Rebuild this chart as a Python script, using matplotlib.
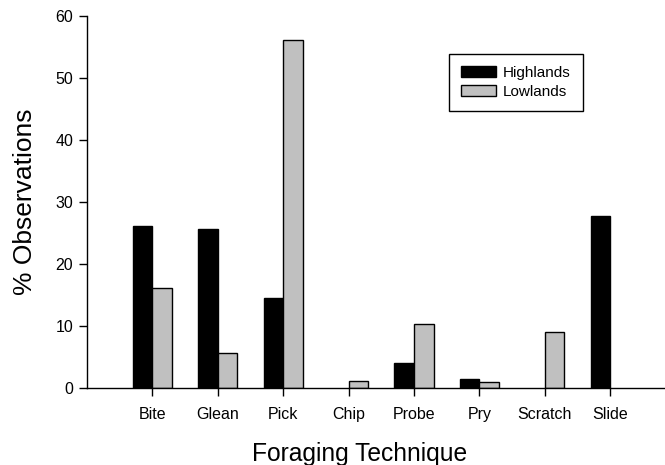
import matplotlib
matplotlib.use("Agg")
import matplotlib.pyplot as plt
import numpy as np

plt.rcParams['font.family'] = ['Liberation Sans', 'DejaVu Sans']

categories = ["Bite", "Glean", "Pick", "Chip", "Probe", "Pry", "Scratch", "Slide"]
highlands = [26.1, 25.7, 14.5, 0.0, 4.0, 1.5, 0.0, 27.7]
lowlands = [16.1, 5.6, 56.1, 1.2, 10.3, 0.9, 9.0, 0.0]
yticks = [0, 10, 20, 30, 40, 50, 60]

W, H = 665, 465
fig = plt.figure(figsize=(W / 100, H / 100), dpi=100)
ax = fig.add_axes([87 / W, 1 - 388 / H, 588.6 / W, 372 / H])

x = np.arange(len(categories))
bw = 0.3
hv = np.array(highlands)
lv = np.array(lowlands)
hm = hv > 0
lm = lv > 0
ax.bar(x[hm] - bw / 2, hv[hm], width=bw, color='black', edgecolor='black', linewidth=1, label='Highlands')
ax.bar(x[lm] + bw / 2, lv[lm], width=bw, color='#c0c0c0', edgecolor='black', linewidth=1, label='Lowlands')

ax.set_xlim(-1, 8)
ax.set_ylim(0, 60)
ax.set_xticks(x)
ax.set_xticklabels(categories, fontsize=11.5)
ax.set_yticks(yticks)
ax.set_yticklabels([str(t) for t in yticks], fontsize=11.5)
ax.tick_params(direction='out', length=6, width=1, colors='black', pad=8)
ax.tick_params(axis='y', pad=4)
for s in ['top', 'right']:
    ax.spines[s].set_visible(False)
for s in ['left', 'bottom']:
    ax.spines[s].set_linewidth(1)

ax.set_xlabel('Foraging Technique', fontsize=17.7)
ax.set_ylabel('% Observations', fontsize=19)
ax.xaxis.set_label_coords((360 - 87) / 588.6, (388 - 442) / 372)
ax.yaxis.set_label_coords((37 - 87) / 588.6, 0.5)

leg = ax.legend(loc='upper left', bbox_to_anchor=(449 / W, 1 - 54 / H), bbox_transform=fig.transFigure,
                fontsize=11, frameon=True, fancybox=False, edgecolor='black', framealpha=1,
                handlelength=2.3, handleheight=0.72, handletextpad=0.45, borderpad=0.8,
                labelspacing=0.3, borderaxespad=0)
leg.get_frame().set_linewidth(1)

fig.savefig('out.png', dpi=100)
